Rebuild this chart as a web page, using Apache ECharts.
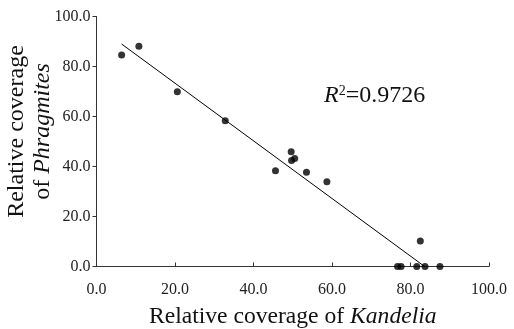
<!DOCTYPE html>
<html>
<head>
<meta charset="utf-8">
<script src="https://cdn.jsdelivr.net/npm/echarts@6/dist/echarts.min.js"></script>
<style>html,body{margin:0;padding:0;background:#fff}#c{width:514px;height:329px}</style>
</head>
<body>
<div id="c"></div>
<script>
// Relative coverage of Kandelia (x) vs Phragmites (y)
var kandelia   = [6.4, 10.8, 20.6, 32.8, 45.6, 49.6, 49.7, 50.5, 53.5, 58.7, 82.5, 76.7, 77.6, 81.6, 83.7, 87.5];
var phragmites = [84.6, 88.1, 69.9, 58.3, 38.3, 45.9, 42.4, 43.2, 37.7, 33.9, 10.2, 0, 0, 0, 0, 0];
// fitted line endpoints
var trendX = [6.4, 83.6];
var trendY = [89.0, 0.0];
var r2Label = '0.9726';

var serif = 'Liberation Serif';
var pts = kandelia.map(function (x, i) { return [x, phragmites[i]]; });
var line = trendX.map(function (x, i) { return [x, trendY[i]]; });

var chart = echarts.init(document.getElementById('c'), null, {renderer: 'canvas'});
chart.setOption({
  animation: false,
  backgroundColor: '#ffffff',
  grid: {left: 96.5, right: 25, top: 16.5, bottom: 62.5, containLabel: false, outerBoundsMode: 'none'},
  title: {
    left: 319, top: 79,
    text: '{r|R}{s|2}{n|=' + r2Label + '}',
    textStyle: {
      fontWeight: 'normal',
      rich: {
        r: {fontFamily: serif, fontStyle: 'italic', fontWeight: 'normal', fontSize: 24, color: '#111'},
        s: {fontFamily: serif, fontWeight: 'normal', fontSize: 14, color: '#111', verticalAlign: 'top', padding: [0, 0, 10, 0]},
        n: {fontFamily: serif, fontWeight: 'normal', fontSize: 24, color: '#111'}
      }
    }
  },
  xAxis: {
    type: 'value', min: 0, max: 100, interval: 20,
    name: '{a|Relative coverage of }{i|Kandelia}',
    nameLocation: 'middle', nameGap: 38, nameMoveOverlap: false,
    nameTextStyle: {
      rich: {
        a: {fontFamily: serif, fontSize: 23.6, color: '#111'},
        i: {fontFamily: serif, fontSize: 23.6, fontStyle: 'italic', color: '#111'}
      }
    },
    axisLine: {show: true, lineStyle: {color: '#333', width: 1}},
    axisTick: {show: true, inside: true, length: 4, lineStyle: {color: '#333'}},
    splitLine: {show: false},
    axisLabel: {fontFamily: serif, fontSize: 16, color: '#222', margin: 15,
      formatter: function (v) { return v.toFixed(1); }}
  },
  yAxis: {
    type: 'value', min: 0, max: 100, interval: 20,
    name: '{a|Relative coverage}\n{a|of }{i|Phragmites}',
    nameLocation: 'middle', nameGap: 41, nameMoveOverlap: false,
    nameTextStyle: {
      align: 'center',
      lineHeight: 26,
      padding: [0, 0, 0, 20],
      rich: {
        a: {fontFamily: serif, fontSize: 24, color: '#111', lineHeight: 26},
        i: {fontFamily: serif, fontSize: 24, fontStyle: 'italic', color: '#111', lineHeight: 26}
      }
    },
    axisLine: {show: true, lineStyle: {color: '#333', width: 1}},
    axisTick: {show: true, inside: false, length: 4, lineStyle: {color: '#333'}},
    splitLine: {show: false},
    axisLabel: {fontFamily: serif, fontSize: 16, color: '#222', margin: 6,
      formatter: function (v) { return v.toFixed(1); }}
  },
  series: [
    {
      type: 'line', data: line, symbol: 'none', silent: true,
      lineStyle: {color: '#000', width: 1}, z: 1
    },
    {
      type: 'scatter', data: pts, symbol: 'circle', symbolSize: 7, clip: false,
      itemStyle: {color: '#000'}, z: 2
    }
  ]
});
</script>
</body>
</html>
